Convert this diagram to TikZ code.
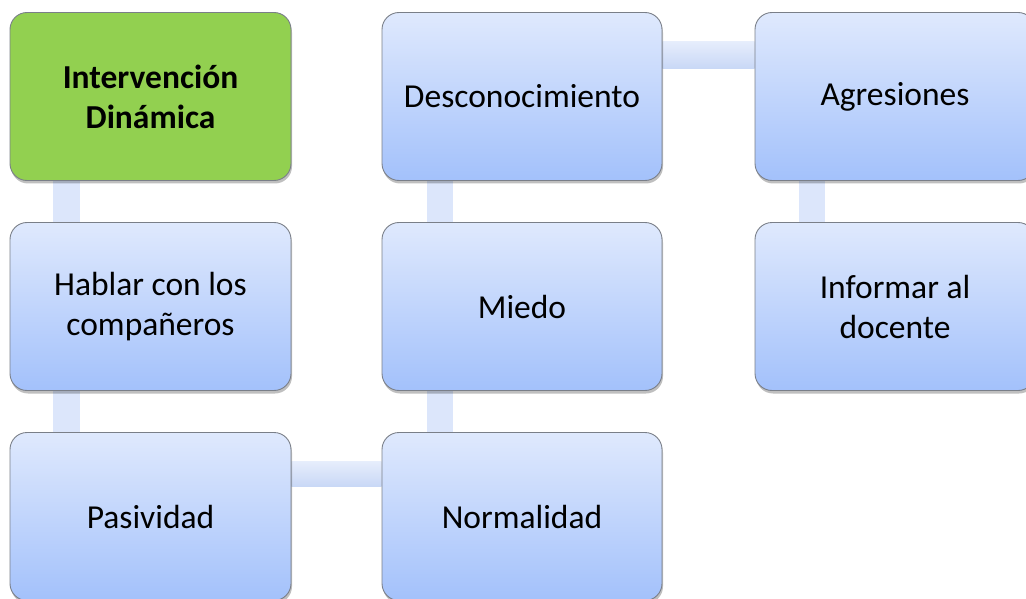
\documentclass[tikz,border=0pt]{standalone}
\usepackage{fontspec}
\setmainfont{Carlito}
\usetikzlibrary{shadows,backgrounds,calc}
\definecolor{boxtop}{HTML}{DFE9FD}
\definecolor{boxbot}{HTML}{A3C1FB}
\definecolor{boxline}{HTML}{7A7F88}
\definecolor{greenfill}{HTML}{92D050}
\definecolor{linkA}{HTML}{DCE6FB}
\definecolor{linkB}{HTML}{C9D8F6}
\tikzset{
  card/.style={draw=boxline, line width=0.9pt, rounded corners=17pt,
    minimum width=281pt, minimum height=168pt, inner sep=0pt,
    align=center, font=\fontsize{33.5}{40}\selectfont,
    top color=boxtop, bottom color=boxbot,
    drop shadow={shadow xshift=1pt, shadow yshift=-3pt, opacity=0.25, fill=black}},
  greencard/.style={card, top color=greenfill, bottom color=greenfill, draw=boxline,
    font=\fontsize{33.5}{40}\selectfont\bfseries},
  vlink/.style={fill=linkA},
  hlink/.style={top color=linkA!70!white, bottom color=linkB}
}
\begin{document}
\begin{tikzpicture}[x=1pt,y=-1pt]
\useasboundingbox (0,0) rectangle (1026,599);
\clip (0,0) rectangle (1026,599);
\node[greencard] (iv) at (150.5,96.5) {Intervención\\Dinámica};
\node[card] (hab) at (150.5,306.5) {Hablar con los\\compañeros};
\node[card] (pas) at (150.5,516.5) {Pasividad};
\node[card, minimum width=280pt] (nor) at (522,516.5) {Normalidad};
\node[card, minimum width=280pt] (mie) at (522,306.5) {Miedo};
\node[card, minimum width=280pt] (des) at (522,96.5) {Desconocimiento};
\node[card, minimum width=280pt] (agr) at (895,96.5) {Agresiones};
\node[card, minimum width=280pt] (inf) at (895,306.5) {Informar al\\docente};
\begin{scope}[on background layer]
\path[vlink] ($(iv.south west)+(43,0)$) rectangle ($(hab.north west)+(70,0)$);
\path[vlink] ($(hab.south west)+(43,0)$) rectangle ($(pas.north west)+(70,0)$);
\path[hlink] ($(pas.north east)+(0,29)$) rectangle ($(nor.north west)+(0,54)$);
\path[vlink] ($(nor.north west)+(45,0)$) rectangle ($(mie.south west)+(71,0)$);
\path[vlink] ($(mie.north west)+(45,0)$) rectangle ($(des.south west)+(71,0)$);
\path[hlink] ($(des.north east)+(0,29)$) rectangle ($(agr.north west)+(0,56)$);
\path[vlink] ($(agr.south west)+(44,0)$) rectangle ($(inf.north west)+(70,0)$);
\end{scope}
\end{tikzpicture}
\end{document}
